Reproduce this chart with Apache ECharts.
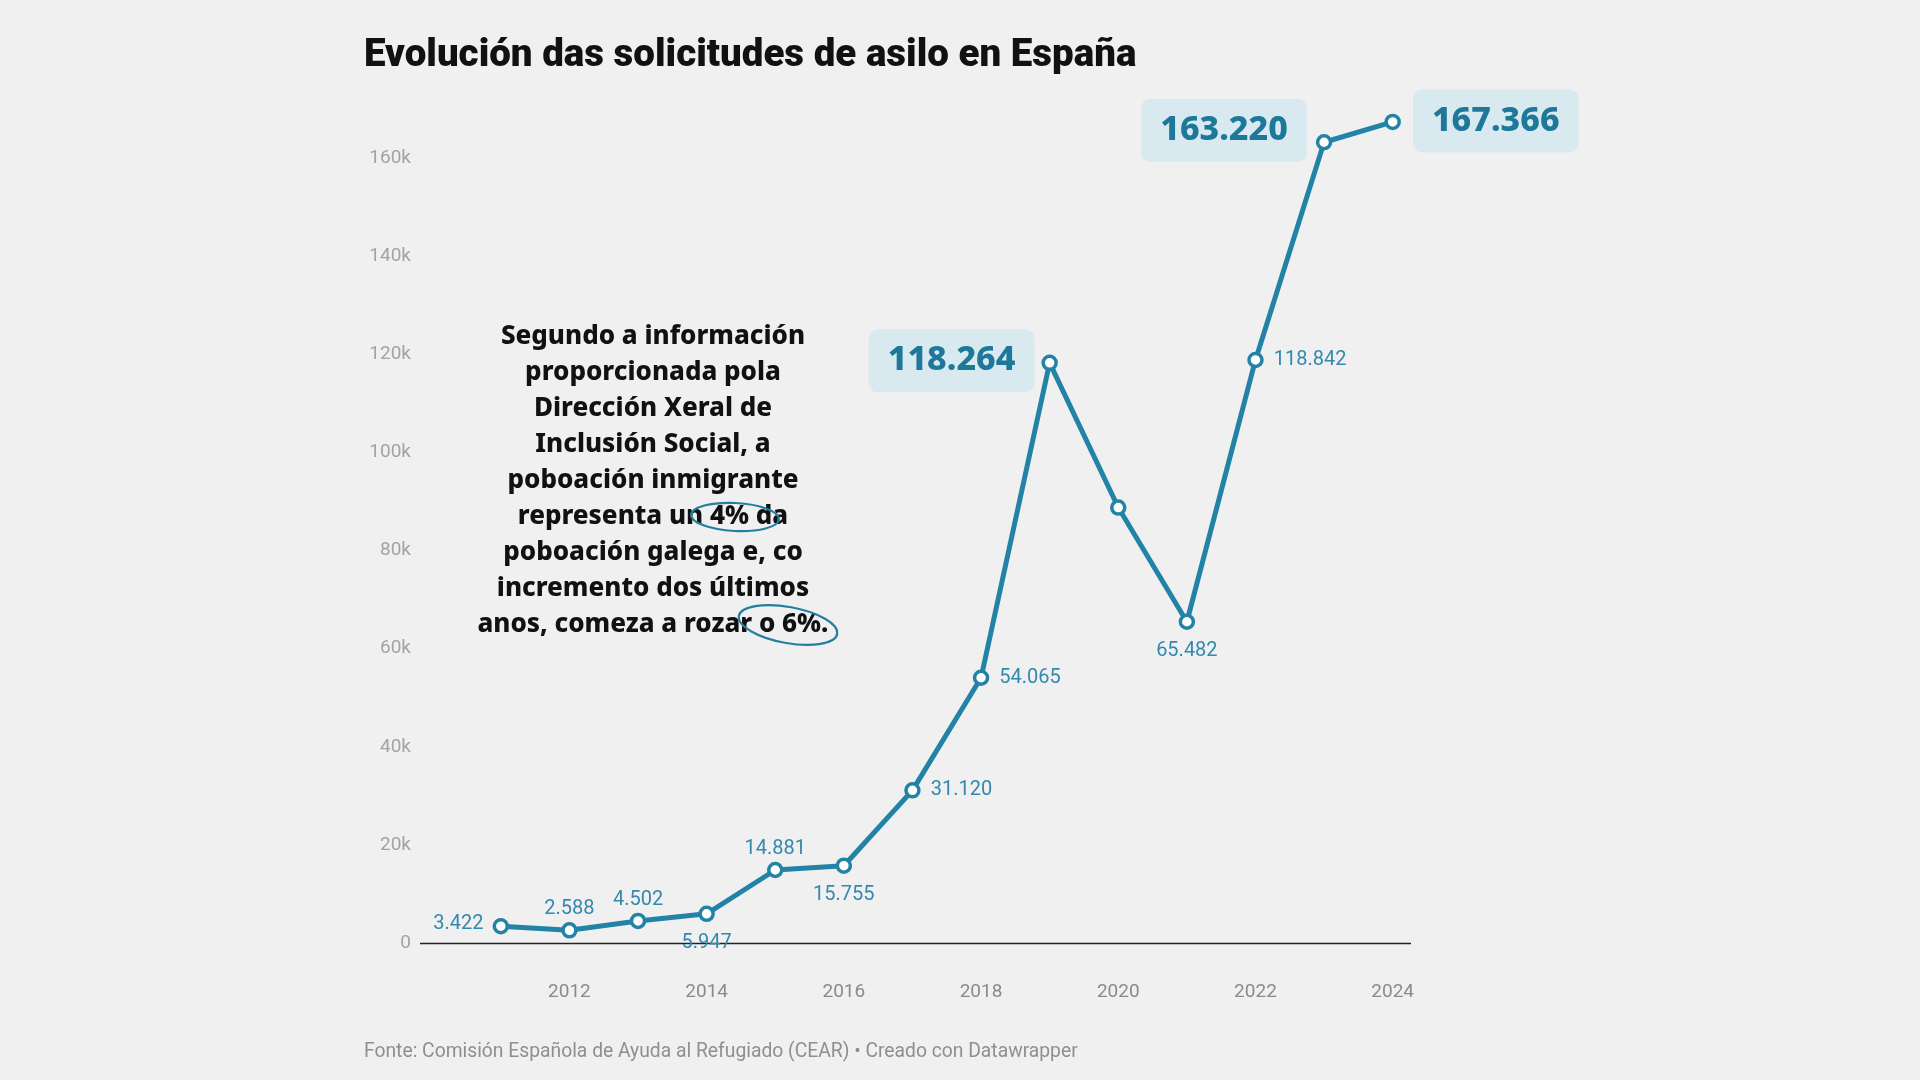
<!DOCTYPE html>
<html>
<head>
<meta charset="utf-8">
<script src="https://cdn.jsdelivr.net/npm/echarts@6/dist/echarts.min.js"></script>
<style>
html,body{margin:0;padding:0;background:#f0f0f0;}
#c{width:1920px;height:1080px;}
</style>
</head>
<body>
<div id="c"></div>
<script>
const years = [2011,2012,2013,2014,2015,2016,2017,2018,2019,2020,2021,2022,2023,2024];
const values = [3422,2588,4502,5947,14881,15755,31120,54065,118264,88762,65482,118842,163220,167366];
const xTickLabels = [2012,2014,2016,2018,2020,2022,2024];
const yTickValues = [0,20000,40000,60000,80000,100000,120000,140000,160000];
const titleText = 'Evolución das solicitudes de asilo en España';
const sourceText = 'Fonte: Comisión Española de Ayuda al Refugiado (CEAR) • Creado con Datawrapper';
const noteLines = [
  'Segundo a información',
  'proporcionada pola',
  'Dirección Xeral de',
  'Inclusión Social, a',
  'poboación inmigrante',
  'representa un 4% da',
  'poboación galega e, co',
  'incremento dos últimos',
  'anos, comeza a rozar o 6%.'
];
// label placement per year (presentation)
const labelPlacement = {
  2011:'left',2012:'top',2013:'top',2014:'bottom',2015:'top',2016:'bottom',
  2017:'right',2018:'right',2019:'bigLeft',2020:'none',2021:'bottom',2022:'right',
  2023:'bigLeft2',2024:'bigRight'
};

const LINE = '#2283a6';
const LABEL = '#3389ad';
const fmt = v => String(v).replace(/\B(?=(\d{3})+(?!\d))/g, '.');

const bigLabel = {
  show:true, fontFamily:'Noto Sans', fontWeight:800, fontSize:34, color:'#1d7899',
  backgroundColor:'#d8e9f0', borderRadius:9, padding:[15,19,14,19]
};

const data = years.map((y,i) => {
  const p = labelPlacement[y];
  const d = {value:[y, values[i]]};
  const base = {show:true, color:LABEL, fontFamily:'Roboto', fontSize:20, formatter: () => fmt(values[i])};
  if (p === 'none') d.label = {show:false};
  else if (p === 'left') d.label = Object.assign(base,{position:'left', distance:9, offset:[0,-2]});
  else if (p === 'right') d.label = Object.assign(base,{position:'right', distance:10});
  else if (p === 'top') d.label = Object.assign(base,{position:'top', distance:3});
  else if (p === 'bottom') d.label = Object.assign(base,{position:'bottom', distance:11});
  else if (p === 'bigLeft') d.label = Object.assign({}, bigLabel, {position:'left', distance:7, offset:[0,-2], formatter: () => fmt(values[i])});
  else if (p === 'bigLeft2') d.label = Object.assign({}, bigLabel, {position:'left', distance:9, offset:[0,-12], formatter: () => fmt(values[i])});
  else if (p === 'bigRight') d.label = Object.assign({}, bigLabel, {position:'right', distance:12, offset:[0,-1], formatter: () => fmt(values[i])});
  return d;
});

const chart = echarts.init(document.getElementById('c'));
chart.setOption({
  backgroundColor:'#f0f0f0',
  animation:false,
  grid:{left:420, right:509, top:109, bottom:137},
  xAxis:{
    type:'value', min:2009.822, max:2024.267,
    splitLine:{show:false},
    axisLine:{show:false}, axisTick:{show:false},
    axisLabel:{customValues:xTickLabels, color:'#8a8a8a', fontFamily:'Roboto', fontSize:19, margin:40, formatter: v => String(v)}
  },
  yAxis:{
    type:'value', min:0, max:170000,
    splitLine:{show:false},
    axisLine:{show:false}, axisTick:{show:false},
    axisLabel:{customValues:yTickValues, color:'#a3a3a3', fontFamily:'Roboto', fontSize:19, margin:9,
      formatter: v => v === 0 ? '0' : (v/1000) + 'k'}
  },
  series:[{
    type:'line',
    data:data,
    lineStyle:{color:LINE, width:5},
    itemStyle:{color:'#ffffff', borderColor:LINE, borderWidth:3.5},
    symbol:'circle', symbolSize:13,
    z:3,
    markLine:{
      silent:true, symbol:'none', label:{show:false},
      lineStyle:{color:'#222', width:1.3, type:'solid'},
      data:[{yAxis:0}],
      z:1
    }
  }],
  graphic:[
    {type:'text', left:364, top:37, style:{text:titleText, font:'900 38.5px Roboto', fill:'#111'}},
    {type:'text', left:364, top:1043, style:{text:sourceText, font:'19.3px Roboto', fill:'#8f8f8f'}},
    {type:'text', x:653, y:319, style:{text:noteLines.join('\n'), font:'800 26px "Noto Sans"', fill:'#111', align:'center', lineHeight:36}},
    {type:'ellipse', shape:{cx:735, cy:517, rx:44, ry:14}, rotation:-0.05, originX:735, originY:517,
      style:{fill:'none', stroke:'#237ea0', lineWidth:2.2}},
    {type:'ellipse', shape:{cx:788, cy:625, rx:50, ry:18}, rotation:-0.18, originX:788, originY:625,
      style:{fill:'none', stroke:'#237ea0', lineWidth:2.2}}
  ]
});
</script>
</body>
</html>
